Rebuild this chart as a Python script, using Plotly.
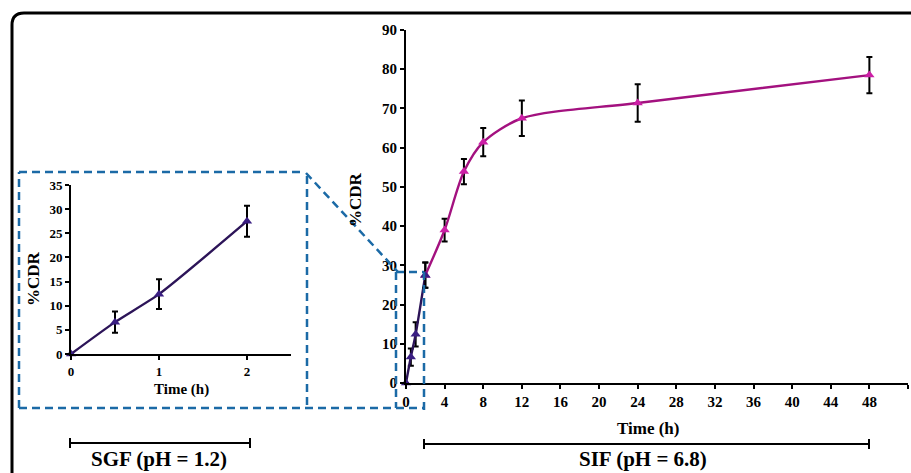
import plotly.graph_objects as go

W, H = 911, 473

# ---------------- data ----------------
sgf_time = [0, 0.5, 1, 2]
sgf_cdr = [0, 6.6, 12.4, 27.5]
sgf_err = [0, 2.2, 3.1, 3.2]

sif_time = [2, 4, 6, 8, 12, 24, 48]
sif_cdr = [27.5, 39.0, 53.9, 61.4, 67.5, 71.4, 78.5]
sif_err = [3.2, 2.9, 3.2, 3.6, 4.5, 4.8, 4.6]

main_y_ticks = list(range(0, 91, 10))
main_x_ticks = list(range(0, 53, 4))
inset_y_ticks = list(range(0, 36, 5))
inset_x_ticks = [0, 1, 2]

# ---------------- style ----------------
FONT = "Liberation Serif, Times New Roman, serif"
DARK_LINE = "#2C1458"
DARK_MARK = "#3A1E82"
MAG_LINE = "#A3117F"
MAG_MARK = "#CC1FA6"
BLUE = "#1B6AA6"


def px(x):
    return x / W


def py(y):
    return 1 - y / H


err_style = dict(type="data", color="black", thickness=2, width=3)

fig = go.Figure()

# main plot traces
fig.add_trace(go.Scatter(
    x=sgf_time, y=sgf_cdr, mode="lines+markers",
    line=dict(color=DARK_LINE, width=2.4, shape="spline", smoothing=0.6),
    marker=dict(symbol="triangle-up", size=9, color=DARK_MARK),
    error_y=dict(array=sgf_err, **err_style),
    xaxis="x", yaxis="y", showlegend=False, cliponaxis=False))
fig.add_trace(go.Scatter(
    x=sif_time, y=sif_cdr, mode="lines+markers",
    line=dict(color=MAG_LINE, width=2.4, shape="spline", smoothing=0.8),
    marker=dict(symbol="triangle-up", size=9, color=MAG_MARK),
    error_y=dict(array=sif_err, **err_style),
    xaxis="x", yaxis="y", showlegend=False, cliponaxis=False))
# re-draw the 2 h point in dark on top
fig.add_trace(go.Scatter(
    x=sgf_time[-1:], y=sgf_cdr[-1:], mode="markers",
    marker=dict(symbol="triangle-up", size=9, color=DARK_MARK),
    xaxis="x", yaxis="y", showlegend=False, cliponaxis=False))

# inset traces
fig.add_trace(go.Scatter(
    x=sgf_time, y=sgf_cdr, mode="lines+markers",
    line=dict(color=DARK_LINE, width=2.4, shape="spline", smoothing=0.6),
    marker=dict(symbol="triangle-up", size=9, color=DARK_MARK),
    error_y=dict(array=sgf_err, **err_style),
    xaxis="x2", yaxis="y2", showlegend=False, cliponaxis=False))

axis_common = dict(
    showline=True, linecolor="black", linewidth=2, mirror=False,
    ticks="outside", ticklen=4, tickwidth=2, tickcolor="black",
    showgrid=False, zeroline=False, fixedrange=True, automargin=False,
)

fig.update_layout(
    width=W, height=H,
    margin=dict(l=0, r=0, t=0, b=0, pad=0, autoexpand=False),
    paper_bgcolor="white", plot_bgcolor="rgba(0,0,0,0)",
    xaxis=dict(domain=[px(406), px(908)], range=[0, 52], tickvals=main_x_ticks,
               tickfont=dict(family=FONT, size=15, color="black", weight="bold"),
               anchor="y", **axis_common),
    yaxis=dict(domain=[py(383), py(30)], range=[0, 90], tickvals=main_y_ticks,
               tickfont=dict(family=FONT, size=15, color="black", weight="bold"),
               anchor="x", **axis_common),
    xaxis2=dict(domain=[px(71), px(291)], range=[0, 2.5], tickvals=inset_x_ticks,
                tickfont=dict(family=FONT, size=13, color="black", weight="bold"),
                anchor="y2", **axis_common),
    yaxis2=dict(domain=[py(354), py(185)], range=[0, 35], tickvals=inset_y_ticks,
                tickfont=dict(family=FONT, size=13, color="black", weight="bold"),
                anchor="x2", **axis_common),
)

shapes = []
# outer rounded border
shapes.append(dict(
    type="path", xref="paper", yref="paper",
    path=(f"M {px(12)},{py(490)} L {px(12)},{py(25)} "
          f"Q {px(12)},{py(13)} {px(24)},{py(13)} L {px(930)},{py(13)}"),
    line=dict(color="black", width=3)))

dash_line = dict(color=BLUE, width=2.5, dash="8px,5px")


def seg(x0, y0, x1, y1, line):
    return dict(type="line", xref="paper", yref="paper",
                x0=px(x0), y0=py(y0), x1=px(x1), y1=py(y1), line=line)


# inset dashed box + zoom connector
shapes += [
    seg(19, 408, 19, 172, dash_line),
    seg(19, 172, 305, 172, dash_line),
    seg(307, 176, 307, 408, dash_line),
    seg(19, 408, 424, 408, dash_line),
    seg(306, 173, 398, 272, dash_line),
    seg(396, 272, 424, 272, dash_line),
    seg(396, 272, 396, 408, dash_line),
    seg(424, 272, 424, 410, dash_line),
]

solid = dict(color="black", width=2)
shapes += [
    seg(70, 443, 250, 443, solid),
    seg(70, 438, 70, 448, solid),
    seg(250, 438, 250, 448, solid),
    seg(424, 444, 869, 444, solid),
    seg(424, 439, 424, 449, solid),
    seg(869, 439, 869, 449, solid),
]
fig.update_layout(shapes=shapes)


def ann(text, x, y, size, angle=0):
    return dict(text=f"<b>{text}</b>", x=px(x), y=py(y), xref="paper", yref="paper",
                xanchor="center", yanchor="middle", showarrow=False, textangle=angle,
                font=dict(family=FONT, size=size, color="black"))


fig.update_layout(annotations=[
    ann("Time (h)", 648, 428, 17),
    ann("%CDR", 355, 200, 17, -90),
    ann("Time (h)", 181, 389, 15),
    ann("%CDR", 33, 279, 17, -90),
    ann("SGF (pH = 1.2)", 159, 459, 21),
    ann("SIF (pH = 6.8)", 643, 459, 21),
])

fig.write_html(
    "out.html",
    config={"responsive": False, "displayModeBar": False},
    post_script="document.body.style.margin='0';document.body.style.padding='0';",
)
